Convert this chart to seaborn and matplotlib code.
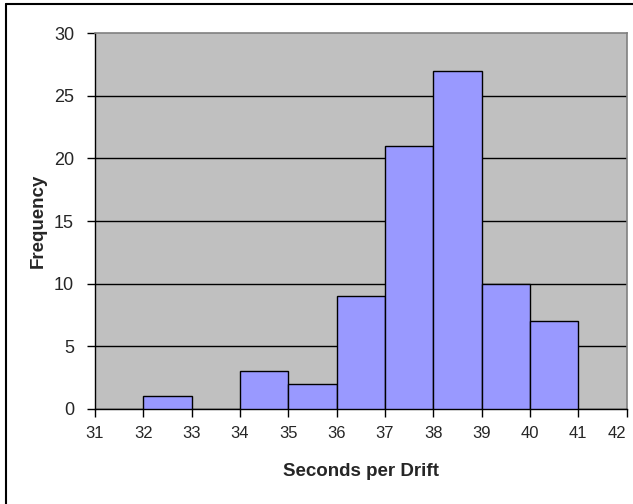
import matplotlib
matplotlib.use("Agg")
import matplotlib.pyplot as plt
from matplotlib.lines import Line2D
import seaborn as sns
import pandas as pd

# Histogram of seconds per drift
bin_edges = [31, 32, 33, 34, 35, 36, 37, 38, 39, 40, 41, 42]
bin_counts = [0, 1, 0, 3, 2, 9, 21, 27, 10, 7, 0]
x_ticks = [31, 32, 33, 34, 35, 36, 37, 38, 39, 40, 41, 42]
y_ticks = [0, 5, 10, 15, 20, 25, 30]

df = pd.DataFrame({
    "start": bin_edges[:-1],
    "count": bin_counts,
})
df["mid"] = df["start"] + 0.5

sns.set_style("white")
plt.rcParams["font.family"] = ["Liberation Sans", "DejaVu Sans"]

fig = plt.figure(figsize=(6.33, 5.04), dpi=100)
ax = fig.add_axes([0.150, 0.1885, 0.840, 0.746])
ax.set_facecolor("#C0C0C0")

sns.histplot(data=df, x="mid", weights="count", bins=bin_edges,
             color="#9999FF", edgecolor="black", linewidth=1.0,
             alpha=1.0, ax=ax, zorder=3)

ax.set_xlim(31, 42)
ax.set_ylim(0, 30)
ax.set_xticks(x_ticks)
ax.set_yticks(y_ticks)
ax.set_xticklabels([str(t) for t in x_ticks], fontsize=12)
ax.set_yticklabels([str(t) for t in y_ticks], fontsize=13)
ax.get_xticklabels()[-1].set_horizontalalignment("right")

for yv in y_ticks[1:-1]:
    ax.axhline(yv, color="black", linewidth=1.0, zorder=1)

ax.tick_params(axis="both", direction="out", length=6, width=1,
               color="black", bottom=True, left=True)
ax.tick_params(axis="y", pad=9)
ax.tick_params(axis="x", pad=6)

for side in ("left", "bottom"):
    ax.spines[side].set_color("black")
    ax.spines[side].set_linewidth(1.0)
for side in ("top", "right"):
    ax.spines[side].set_visible(True)
    ax.spines[side].set_color("#808080")
    ax.spines[side].set_linewidth(1.2)

ax.set_xlabel("Seconds per Drift", fontsize=13.5, fontweight="bold", labelpad=16)
ax.set_ylabel("Frequency", fontsize=13.5, fontweight="bold", labelpad=5)

# Chart-area frame on left and top edges
fig.add_artist(Line2D([6 / 633, 6 / 633], [0, 1 - 4 / 504],
                      transform=fig.transFigure, color="black", linewidth=1.5))
fig.add_artist(Line2D([6 / 633, 1], [1 - 4 / 504, 1 - 4 / 504],
                      transform=fig.transFigure, color="black", linewidth=1.5))

fig.savefig("out.png", dpi=100)
